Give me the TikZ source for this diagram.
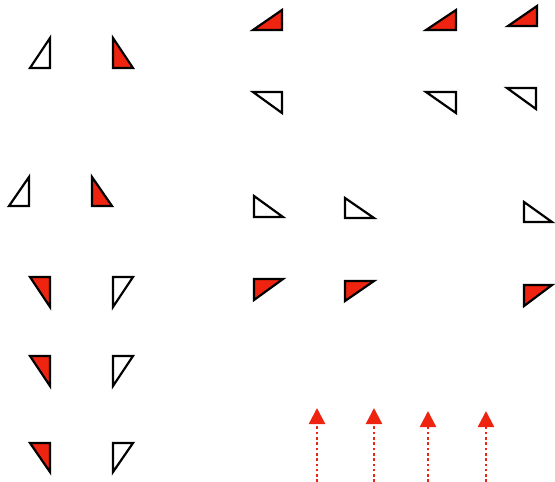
\documentclass[tikz,border=0pt]{standalone}
\usepackage{tikz}
\usetikzlibrary{arrows.meta}

\definecolor{triRed}{RGB}{238,36,16}

\begin{document}
\begin{tikzpicture}[
    x=1pt, y=-1pt,
    tri/.style={draw=black, line width=2.2pt, miter limit=10, fill=white},
    redtri/.style={tri, fill=triRed},
    uparr/.style={-{Triangle[length=16pt, width=16pt]}, triRed, line width=2.4pt,
                  dash pattern=on 2.6pt off 2.7pt},
]
    \useasboundingbox (0,0) rectangle (555,482);

    %==================== LEFT: upright pairs ====================
    \draw[tri]    (30,68) -- (50,38) -- (50,68) -- cycle;
    \draw[redtri] (113,38) -- (113,68) -- (133,68) -- cycle;

    \draw[tri]    (9,206) -- (29,177) -- (29,206) -- cycle;
    \draw[redtri] (92,177) -- (92,206) -- (112,206) -- cycle;

    %==================== LEFT: hanging pairs ====================
    \draw[redtri] (30,277) -- (50,277) -- (50,307) -- cycle;
    \draw[tri]    (113,277) -- (133,277) -- (113,307) -- cycle;

    \draw[redtri] (30,356) -- (50,356) -- (50,386) -- cycle;
    \draw[tri]    (113,356) -- (133,356) -- (113,386) -- cycle;

    \draw[redtri] (30,443) -- (50,443) -- (50,472) -- cycle;
    \draw[tri]    (113,443) -- (133,443) -- (113,472) -- cycle;

    %==================== TOP RIGHT ====================
    \draw[redtri] (253,30) -- (282,10) -- (282,30) -- cycle;
    \draw[tri]    (253,92) -- (282,92) -- (282,113) -- cycle;

    \draw[redtri] (426,30) -- (456,10) -- (456,30) -- cycle;
    \draw[tri]    (426,92) -- (456,92) -- (456,113) -- cycle;

    \draw[redtri] (508,26) -- (537,6) -- (537,26) -- cycle;
    \draw[tri]    (507,88) -- (536,88) -- (536,109) -- cycle;

    %==================== MIDDLE RIGHT ====================
    \draw[tri]    (254,196) -- (254,217) -- (283,217) -- cycle;
    \draw[tri]    (345,198) -- (345,218) -- (374,218) -- cycle;
    \draw[tri]    (524,202) -- (524,222) -- (552,222) -- cycle;

    \draw[redtri] (254,279) -- (283,279) -- (254,300) -- cycle;
    \draw[redtri] (345,281) -- (374,281) -- (345,301) -- cycle;
    \draw[redtri] (524,285) -- (552,285) -- (524,306) -- cycle;

    %==================== ARROWS ====================
    \coordinate (a1b) at (317,482);  \coordinate (a1t) at (317,408);
    \coordinate (a2b) at (374,482);  \coordinate (a2t) at (374,408);
    \coordinate (a3b) at (428,482);  \coordinate (a3t) at (428,411);
    \coordinate (a4b) at (486,482);  \coordinate (a4t) at (486,411);

    \draw[uparr] (a1b) -- (a1t);
    \draw[uparr] (a2b) -- (a2t);
    \draw[uparr] (a3b) -- (a3t);
    \draw[uparr] (a4b) -- (a4t);

\end{tikzpicture}
\end{document}
